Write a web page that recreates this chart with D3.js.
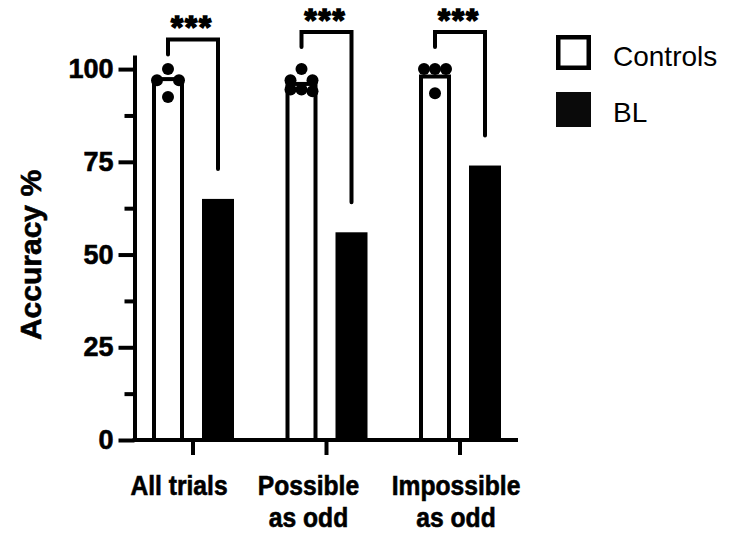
<!DOCTYPE html>
<html>
<head>
<meta charset="utf-8">
<script src="https://cdn.jsdelivr.net/npm/d3@7"></script>
<style>
  body { margin: 0; background: #fff; }
  text { font-family: "Liberation Sans", Arial, Helvetica, sans-serif; fill: #000; }
  text.heavy { font-weight: bold; stroke: #000; stroke-width: 0.6px; }
</style>
</head>
<body>
<svg id="chart" width="730" height="534"></svg>
<script>
// ---- data ----
const categories = ["All trials", "Possible\nas odd", "Impossible\nas odd"];
const seriesNames = ["Controls", "BL"];
const controlMeans = [97.3, 96.0, 98.0];
const blValues = [65, 56, 74];
const controlPoints = [
  [100, 97, 97, 92.5],
  [100, 97, 97, 94.5, 94.5, 94],
  [100, 100, 100, 93.5]
];
const significance = ["***", "***", "***"];
const bracketLevels = [108, 110, 110];
const yTicks = [0, 25, 50, 75, 100];
const yMinorTicks = [12.5, 37.5, 62.5, 87.5];

// ---- layout ----
const svg = d3.select("#chart");
const axisX = 134.5;
const baseY = 440;
const axisTop = 103.8;
const labelNudge = [-14, -18, -4];
const labelSquash = 0.88;

const y = d3.scaleLinear().domain([0, axisTop]).range([baseY, 55]);
const x = d3.scaleBand().domain(d3.range(categories.length)).range([126.25, 526.75]);
const xs = d3.scaleBand().domain(seriesNames).range([-50, 50]).paddingInner(0.36).paddingOuter(0.18);
const center = (i, s) => x(i) + x.bandwidth() / 2 + xs(s) + xs.bandwidth() / 2;

const g = svg.append("g");

// BL bars (solid)
g.selectAll("rect.bl").data(blValues).join("rect")
  .attr("class", "bl")
  .attr("x", (d, i) => center(i, "BL") - xs.bandwidth() / 2)
  .attr("width", xs.bandwidth())
  .attr("y", d => y(d))
  .attr("height", d => y(0) - y(d))
  .attr("fill", "#000");

// Control bars (outlined)
const ctrlW = xs.bandwidth() - 4;
g.selectAll("rect.ctrl").data(controlMeans).join("rect")
  .attr("class", "ctrl")
  .attr("x", (d, i) => center(i, "Controls") - ctrlW / 2)
  .attr("width", ctrlW)
  .attr("y", d => y(d))
  .attr("height", d => y(0) - y(d))
  .attr("fill", "#fff")
  .attr("stroke", "#000")
  .attr("stroke-width", 4);

// individual points: rows of equal values spread sideways
function spread(values) {
  const sorted = values.slice().sort((a, b) => b - a);
  const rows = [];
  sorted.forEach(v => {
    const row = rows.find(r => Math.abs(r[0] - v) <= 1.5);
    if (row) row.push(v); else rows.push([v]);
  });
  const out = [];
  rows.forEach(row => {
    const n = row.length;
    row.forEach((v, i) => {
      let k;
      if (n % 2) k = i - (n - 1) / 2;
      else { const h = n / 2; k = i < h ? -(h - i) : (i - h + 1); }
      out.push({ v, k });
    });
  });
  return out;
}
const dotStep = 11;
controlPoints.forEach((pts, i) => {
  const cx = center(i, "Controls");
  g.selectAll(null).data(spread(pts)).join("circle")
    .attr("cx", d => cx + d.k * dotStep)
    .attr("cy", d => y(d.v))
    .attr("r", 6)
    .attr("fill", "#000");
});

// significance brackets
significance.forEach((s, i) => {
  const lx = center(i, "Controls");
  const rx = center(i, "BL");
  const top = y(bracketLevels[i]);
  g.append("path")
    .attr("d", `M${lx},${top + 15}V${top}H${rx}V${y(blValues[i]) - 30}`)
    .attr("fill", "none")
    .attr("stroke", "#000")
    .attr("stroke-width", 4)
    .attr("stroke-linecap", "round")
    .attr("stroke-linejoin", "miter");
  g.append("text")
    .attr("class", "heavy")
    .attr("x", (lx + rx) / 2 - 1)
    .attr("y", top - 1)
    .attr("text-anchor", "middle")
    .attr("font-size", 31)
    .attr("letter-spacing", 2)
    .style("stroke-width", "1.6px")
    .text(s);
});

// y axis
const yAxis = g.append("g")
  .attr("transform", `translate(${axisX},0)`)
  .call(d3.axisLeft(y).tickValues(yTicks).tickSize(16).tickSizeOuter(0).tickPadding(5));
yAxis.select(".domain").attr("stroke-width", 4);
yAxis.selectAll(".tick line").attr("stroke-width", 4);
yAxis.selectAll(".tick text")
  .attr("class", "heavy")
  .attr("font-size", 27)
  .attr("font-family", "'Liberation Sans', Arial, sans-serif");
const yMinor = g.append("g")
  .attr("transform", `translate(${axisX},0)`)
  .call(d3.axisLeft(y).tickValues(yMinorTicks).tickSize(10).tickFormat(""));
yMinor.select(".domain").remove();
yMinor.selectAll(".tick line").attr("stroke-width", 4);

// x axis
const xAxis = g.append("g")
  .attr("transform", `translate(0,${baseY})`)
  .call(d3.axisBottom(x).tickSize(15).tickFormat(""));
xAxis.select(".domain").remove();
xAxis.selectAll(".tick line").attr("stroke-width", 4);
g.append("line")
  .attr("x1", axisX - 2).attr("x2", 518)
  .attr("y1", baseY).attr("y2", baseY)
  .attr("stroke", "#000").attr("stroke-width", 4);

// category labels
categories.forEach((c, i) => {
  const cx = x(i) + x.bandwidth() / 2 + labelNudge[i];
  const t = g.append("text")
    .attr("class", "heavy")
    .attr("transform", `translate(${cx},495) scale(${labelSquash},1)`)
    .attr("text-anchor", "middle")
    .attr("font-size", 28);
  c.split("\n").forEach((line, j) => {
    t.append("tspan")
      .attr("x", 0)
      .attr("y", j * 32)
      .text(line);
  });
});

// y axis title
g.append("text")
  .attr("class", "heavy")
  .attr("transform", `translate(41,255) rotate(-90)`)
  .attr("text-anchor", "middle")
  .attr("font-size", 30)
  .text("Accuracy %");

// legend
const legend = g.append("g");
legend.append("rect")
  .attr("x", 558.25).attr("y", 37.25).attr("width", 30.5).attr("height", 30.5)
  .attr("fill", "#fff").attr("stroke", "#000").attr("stroke-width", 4.5);
legend.append("rect")
  .attr("x", 556).attr("y", 92).attr("width", 35).attr("height", 35)
  .attr("fill", "#0a0a0a");
legend.selectAll("text.leg").data(seriesNames).join("text")
  .attr("class", "leg")
  .attr("x", 613)
  .attr("y", (d, i) => 66 + i * 56)
  .attr("font-size", 28)
  .text(d => d);
</script>
</body>
</html>
